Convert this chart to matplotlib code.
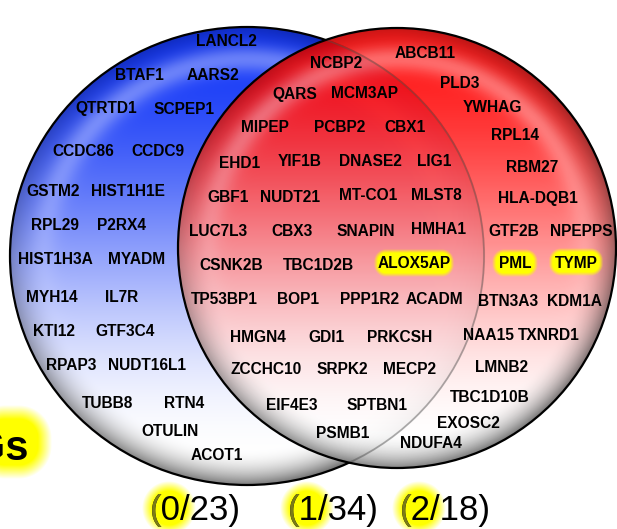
import numpy as np
import matplotlib.pyplot as plt
from matplotlib.patches import Ellipse

W, H = 617, 529

# genes in each part of the venn diagram
left_only = ['LANCL2', 'BTAF1', 'AARS2', 'QTRTD1', 'SCPEP1', 'CCDC86', 'CCDC9',
             'GSTM2', 'HIST1H1E', 'RPL29', 'P2RX4', 'HIST1H3A', 'MYADM', 'MYH14',
             'IL7R', 'KTI12', 'GTF3C4', 'RPAP3', 'NUDT16L1', 'TUBB8', 'RTN4',
             'OTULIN', 'ACOT1']
overlap = ['NCBP2', 'QARS', 'MCM3AP', 'MIPEP', 'PCBP2', 'CBX1', 'EHD1', 'YIF1B',
           'DNASE2', 'LIG1', 'GBF1', 'NUDT21', 'MT-CO1', 'MLST8', 'LUC7L3', 'CBX3',
           'SNAPIN', 'HMHA1', 'CSNK2B', 'TBC1D2B', 'ALOX5AP', 'TP53BP1', 'BOP1',
           'PPP1R2', 'ACADM', 'HMGN4', 'GDI1', 'PRKCSH', 'ZCCHC10', 'SRPK2',
           'MECP2', 'EIF4E3', 'SPTBN1', 'PSMB1']
right_only = ['ABCB11', 'PLD3', 'YWHAG', 'RPL14', 'RBM27', 'HLA-DQB1', 'GTF2B',
              'NPEPPS', 'PML', 'TYMP', 'BTN3A3', 'KDM1A', 'NAA15', 'TXNRD1',
              'LMNB2', 'TBC1D10B', 'EXOSC2', 'NDUFA4']
highlighted = ['ALOX5AP', 'PML', 'TYMP']
side_label = 'DEGs'

# label placement (pixel centres)
label_pos = {
    'LANCL2': (226, 40), 'BTAF1': (139, 74), 'AARS2': (213, 74),
    'QTRTD1': (106, 108), 'SCPEP1': (184, 108), 'CCDC86': (83, 151),
    'CCDC9': (158, 151), 'GSTM2': (53, 190), 'HIST1H1E': (128, 190),
    'RPL29': (55, 225), 'P2RX4': (121, 225), 'HIST1H3A': (55, 258),
    'MYADM': (137, 258), 'MYH14': (52, 296), 'IL7R': (122, 296),
    'KTI12': (54, 330), 'GTF3C4': (125, 330), 'RPAP3': (71, 365),
    'NUDT16L1': (147, 365), 'TUBB8': (108, 402), 'RTN4': (184, 402),
    'OTULIN': (170, 430), 'ACOT1': (217, 454),
    'NCBP2': (336, 63), 'QARS': (295, 94), 'MCM3AP': (365, 93),
    'MIPEP': (265, 127), 'PCBP2': (340, 127), 'CBX1': (405, 127),
    'EHD1': (240, 162), 'YIF1B': (300, 161), 'DNASE2': (370, 161),
    'LIG1': (434, 161), 'GBF1': (228, 197), 'NUDT21': (290, 196),
    'MT-CO1': (368, 195), 'MLST8': (436, 195), 'LUC7L3': (218, 230),
    'CBX3': (292, 230), 'SNAPIN': (366, 230), 'HMHA1': (438, 228),
    'CSNK2B': (231, 264), 'TBC1D2B': (318, 264), 'ALOX5AP': (414, 263),
    'TP53BP1': (224, 299), 'BOP1': (298, 299), 'PPP1R2': (370, 299),
    'ACADM': (434, 298), 'HMGN4': (258, 336), 'GDI1': (326, 337),
    'PRKCSH': (400, 337), 'ZCCHC10': (266, 369), 'SRPK2': (342, 369),
    'MECP2': (410, 368), 'EIF4E3': (292, 404), 'SPTBN1': (377, 404),
    'PSMB1': (343, 433),
    'ABCB11': (425, 53), 'PLD3': (460, 82), 'YWHAG': (492, 107),
    'RPL14': (515, 135), 'RBM27': (532, 166), 'HLA-DQB1': (538, 198),
    'GTF2B': (514, 230), 'NPEPPS': (581, 230), 'PML': (515, 263),
    'TYMP': (576, 262), 'BTN3A3': (508, 300), 'KDM1A': (575, 300),
    'NAA15': (488, 335), 'TXNRD1': (549, 335), 'LMNB2': (502, 366),
    'TBC1D10B': (490, 397), 'EXOSC2': (468, 422), 'NDUFA4': (431, 443),
}

LEFT = dict(cx=247, cy=256, rx=237, ry=229, color=(0.08, 0.22, 0.97))
RIGHT = dict(cx=397, cy=248, rx=219, ry=220, color=(1.0, 0.02, 0.02))

X, Y = np.meshgrid(np.arange(W) + 0.5, np.arange(H) + 0.5)


def sphere_rgba(cx, cy, rx, ry, color, alpha=1.0):
    u = (X - cx) / rx
    v = (Y - cy) / ry
    r = np.hypot(u, v)
    t = np.clip((v + 1) / 2, 0, 1)
    s = np.clip(t / 0.95, 0, 1)
    w = s * s * (3 - 2 * s)
    rgb = np.empty((H, W, 3))
    for k in range(3):
        rgb[..., k] = color[k] * (1 - w) + w
    # glossy band inside the rim, upper part
    band = np.exp(-((r - 0.86) / 0.06) ** 2) * np.clip(0.4 - v, 0, 1)
    rgb = rgb + (1 - rgb) * 0.35 * band[..., None]
    # darker rim, strongest at the bottom and right
    rim = np.clip((r - 0.84) / 0.16, 0, 1) ** 2
    k = 0.22 + 0.3 * np.clip(v, 0, 1) + 0.2 * np.clip(u, 0, 1)
    rgb = rgb * (1 - k * rim)[..., None]
    a = np.clip((1 - r) * min(rx, ry) + 0.5, 0, 1) * alpha
    return np.dstack([np.clip(rgb, 0, 1), a])


def soft_box(cx, cy, hx, hy, rr, soft):
    qx = np.abs(X - cx) - (hx - rr)
    qy = np.abs(Y - cy) - (hy - rr)
    d = np.hypot(np.maximum(qx, 0), np.maximum(qy, 0)) + np.minimum(np.maximum(qx, qy), 0) - rr
    return np.clip(0.5 - d / soft, 0, 1)


fig = plt.figure(figsize=(W / 100, H / 100), dpi=100)
ax = fig.add_axes([0, 0, 1, 1])
ax.set_xlim(0, W)
ax.set_ylim(H, 0)
ax.axis('off')

ax.imshow(sphere_rgba(**LEFT), extent=(0, W, H, 0), interpolation='nearest', zorder=1)
ax.add_patch(Ellipse((LEFT['cx'], LEFT['cy']), 2 * LEFT['rx'], 2 * LEFT['ry'],
                     fill=False, ec='black', lw=1.6, zorder=2))
ax.imshow(sphere_rgba(**RIGHT, alpha=0.93), extent=(0, W, H, 0), interpolation='nearest', zorder=3)
ax.add_patch(Ellipse((RIGHT['cx'], RIGHT['cy']), 2 * RIGHT['rx'], 2 * RIGHT['ry'],
                     fill=False, ec='black', lw=1.6, zorder=4))
# left circle's edge seen through the right one
seen = Ellipse((LEFT['cx'], LEFT['cy']), 2 * LEFT['rx'], 2 * LEFT['ry'],
               fill=False, ec='#555555', lw=1.2, alpha=0.45, zorder=3.5)
ax.add_patch(seen)
clip = Ellipse((RIGHT['cx'], RIGHT['cy']), 2 * RIGHT['rx'], 2 * RIGHT['ry'],
               transform=ax.transData)
seen.set_clip_path(clip)

# yellow highlights
glow = np.zeros((H, W))
for g in highlighted:
    x, y = label_pos[g]
    hw = 4.3 * len(g) + 8
    glow = np.maximum(glow, soft_box(x, y, hw, 12, 10, 4))
glow = np.maximum(glow, soft_box(12, 442, 33, 30, 26, 14))
counts_x = [150, 288, 400]
for x0 in counts_x:
    glow = np.maximum(glow, soft_box(x0 + 19, 508, 22, 22, 22, 10))
ax.imshow(np.dstack([np.ones((H, W)), np.ones((H, W)), np.zeros((H, W)), glow]),
          extent=(0, W, H, 0), interpolation='nearest', zorder=5)

for g in left_only + overlap + right_only:
    x, y = label_pos[g]
    ax.text(x, y + 5.5, g, ha='center', va='baseline', fontsize=11.2,
            fontweight='bold', family='Liberation Sans', color='black', zorder=6)

ax.text(29, 460, side_label, ha='right', va='baseline', fontsize=30,
        fontweight='bold', family='Liberation Sans', color='black', zorder=6)

groups = [left_only, overlap, right_only]
for x0, genes in zip(counts_x, groups):
    n_hi = len([g for g in genes if g in highlighted])
    ax.text(x0, 520, f'({n_hi}/{len(genes)})', ha='left', va='baseline', fontsize=25,
            family='Liberation Sans', color='black', zorder=6)
    ax.text(x0, 520, '(', ha='left', va='baseline', fontsize=25,
            family='Liberation Sans', color='#7a7a18', zorder=7)

fig.savefig('out.png', dpi=100)
